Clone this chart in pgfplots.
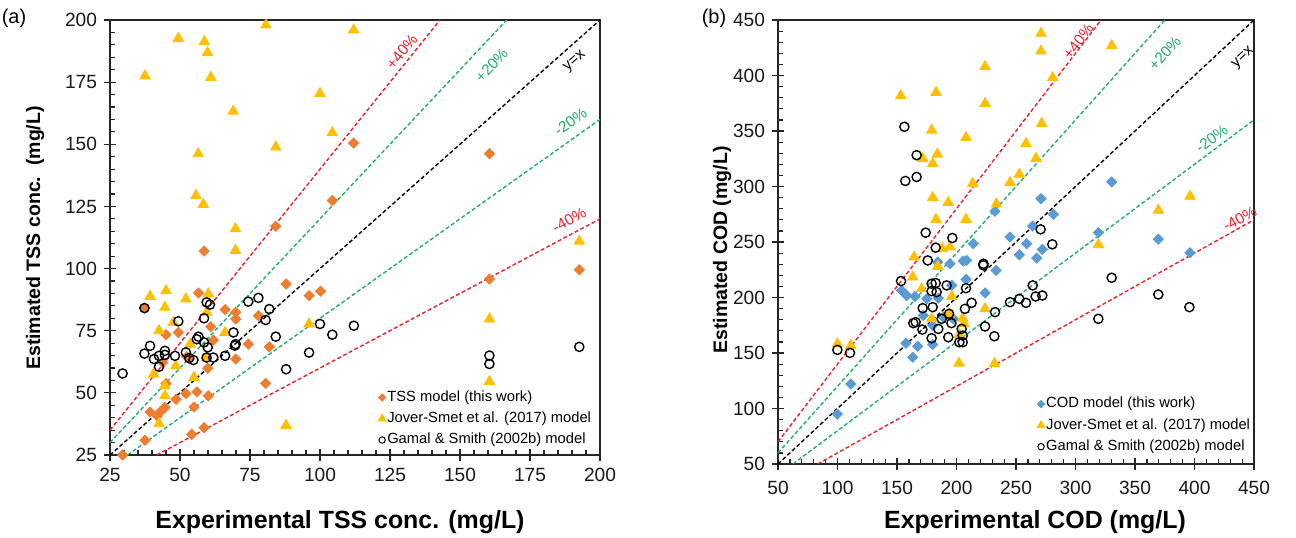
\documentclass[border=0pt]{standalone}
\usepackage{fontspec}
\setmainfont{Liberation Sans}
\usepackage{pgfplots}
\pgfplotsset{compat=1.18}

\definecolor{tssorange}{HTML}{ED7D31}
\definecolor{jsyellow}{HTML}{FFC000}
\definecolor{codblue}{HTML}{5B9BD5}
\definecolor{refred}{HTML}{E8212E}
\definecolor{refgreen}{HTML}{1FAF6A}

\tikzset{lbl/.style={font=\fontsize{7.7}{8}\selectfont, inner sep=0.5bp}}

\pgfplotsset{
  panel/.style={
    scale only axis, clip=false,
    axis line style={black!85, line width=0.6bp},
    tick style={black!85, line width=0.6bp},
    major tick length=6bp, minor tick length=2.5bp, tick align=center,
    minor x tick style={yshift=1.25bp}, minor y tick style={xshift=1.25bp},
    xtick pos=bottom, ytick pos=left,
    tick label style={font=\fontsize{9.6}{11}\selectfont, text=black!90},
    /pgf/number format/assume math mode=true,
    legend style={draw=none, fill=none, font=\fontsize{7.4}{8}\selectfont,
      legend cell align=left, row sep=2.6bp, inner sep=0pt,
      nodes={inner sep=0.6bp}},
    legend image code/.code={\draw[#1] plot coordinates {(1.5bp,0bp)};},
  },
  refline/.style={dash pattern=on 2bp off 1.2bp, line width=0.7bp},
  dmark/.style={only marks, mark=square*, mark size=1.8bp,
    mark options={rotate=45, draw=#1, fill=#1}},
  tmark/.style={only marks, mark=triangle*, mark size=3bp,
    mark options={draw=jsyellow, fill=jsyellow}},
  cmark/.style={only marks, mark=o, mark size=2.3bp,
    mark options={draw=black, line width=0.7bp}},
}

\begin{document}
\begin{tikzpicture}
\useasboundingbox (0,0) rectangle (648bp,269bp);

% ---------- (a) TSS ----------
\begin{axis}[panel,
  at={(55bp,41.5bp)}, anchor=south west,
  width=245bp, height=217.5bp,
  xmin=25, xmax=200, ymin=25, ymax=200,
  xtick={25,50,...,200}, ytick={25,50,...,200},
  minor x tick num=4, minor y tick num=4,
  legend style={at={(0.985,0.015)}, anchor=south east},
]
\addlegendimage{dmark=tssorange, mark size=1.3bp}
\addlegendentry{TSS model (this work)}
\addlegendimage{tmark, mark size=2.3bp}
\addlegendentry{Jover-Smet et al. (2017) model}
\addlegendimage{cmark, mark size=1.6bp, mark options={line width=0.5bp}}
\addlegendentry{Gamal \& Smith (2002b) model}

\addplot[refline, refred, forget plot] coordinates {(25,35) (142.857,200)};
\addplot[refline, refgreen, forget plot] coordinates {(25,30) (166.667,200)};
\addplot[refline, black, forget plot] coordinates {(25,25) (200,200)};
\addplot[refline, refgreen, forget plot] coordinates {(31.25,25) (200,160)};
\addplot[refline, refred, forget plot] coordinates {(41.667,25) (200,120)};

\addplot[dmark=tssorange, forget plot] coordinates {
(112,150.5) (104.4,127.4) (84.2,117) (160.5,146.2) (192.6,99.5) (160.5,95.8)
(58.6,107) (56.6,90.2) (87.9,93.8) (96.1,89.1) (100.2,90.9) (66.1,83.5)
(69.9,82.4) (69.9,79.7) (78,81) (45,73.4) (49.4,74.3) (61,76.6) (61.9,71.2)
(74.4,69.6) (81.9,68.5) (52.4,64.5) (53.3,63.6) (69.9,63.6) (43.8,62.2)
(59.9,59.9) (45,53.8) (80.6,53.8) (48.6,47.4) (52.1,49.7) (56,50.4) (60.1,48.8)
(55,44.3) (39.3,42.3) (42.9,42.3) (44.6,44.1) (41.9,40.7) (37.5,30.9) (29.5,25)
(54.2,33.3) (58.6,36) (37.3,84.1)};

\addplot[tmark, forget plot] coordinates {
(80.7,198) (112,196) (49.4,192.6) (58.7,191.3) (59.8,186.8) (37.5,177.5)
(61,176.9) (100,170.4) (69,163.3) (104.4,154.7) (84.2,148.9) (56.5,146.2)
(55.7,129.4) (58.3,125.8) (69.8,116) (69.8,107.3) (192.6,111) (160.5,79.7)
(160.5,54.6) (39.3,88.8) (45,91.1) (44.6,84.4) (52.1,87.8) (60.1,89.8)
(59.5,82.4) (47.6,78.3) (42.5,75) (53.6,69.6) (66.1,74.3) (59.5,64.2)
(48.5,60.9) (40.5,57.5) (55,56.2) (44.6,52.8) (44.6,48.8) (42.5,37.6)
(87.9,36.9) (96.1,77.7)};

\addplot[cmark, forget plot] coordinates {
(29.5,57.8) (37.3,65.8) (39.3,68.9) (40.7,63.6) (42.5,64.9) (42.5,60.5)
(44.6,66.9) (44.6,65.3) (48.2,64.9) (49.4,78.8) (37.3,84.1) (52.1,66.3)
(53.3,64) (54.8,63.2) (56,71.6) (56.6,72.6) (58.6,70.3) (59.9,68.3) (58.6,80)
(59.5,86.4) (60.7,85.5) (59.5,64.2) (61.9,64.2) (66.1,64.9) (69.1,74.3)
(69.6,69) (69.9,69.6) (74.4,86.7) (78,88.2) (81.9,83.7) (80.6,79.3) (84.2,72.6)
(87.9,59.5) (96.1,66.2) (100,77.7) (104.4,73.4) (112.1,77) (160.5,65)
(160.5,61.6) (192.6,68.5)};

\node[lbl, refred, rotate=51] at (axis cs:129.2,187.2) {+40\%};
\node[lbl, refgreen, rotate=47] at (axis cs:161.3,181.9) {+20\%};
\node[lbl, black, rotate=41.5] at (axis cs:191.1,183.2) {y=x};
\node[lbl, refgreen, rotate=35] at (axis cs:189.5,159) {-20\%};
\node[lbl, refred, rotate=28] at (axis cs:189,119.5) {-40\%};
\end{axis}

% ---------- (b) COD ----------
\begin{axis}[panel,
  at={(389bp,37bp)}, anchor=south west,
  width=238bp, height=222bp,
  xmin=50, xmax=450, ymin=50, ymax=450,
  xtick={50,100,...,450}, ytick={50,100,...,450},
  minor x tick num=4, minor y tick num=4,
  xticklabel style={yshift=-2bp},
  legend style={at={(0.995,0.02)}, anchor=south east},
]
\addlegendimage{dmark=codblue, mark size=1.3bp}
\addlegendentry{COD model (this work)}
\addlegendimage{tmark, mark size=2.3bp}
\addlegendentry{Jover-Smet et al. (2017) model}
\addlegendimage{cmark, mark size=1.6bp, mark options={line width=0.5bp}}
\addlegendentry{Gamal \& Smith (2002b) model}

\addplot[refline, refred, forget plot] coordinates {(50,70) (321.43,450)};
\addplot[refline, refgreen, forget plot] coordinates {(50,60) (375,450)};
\addplot[refline, black, forget plot] coordinates {(50,50) (450,450)};
\addplot[refline, refgreen, forget plot] coordinates {(62.5,50) (450,360)};
\addplot[refline, refred, forget plot] coordinates {(83.33,50) (450,270)};

\addplot[dmark=codblue, forget plot] coordinates {
(232.4,277.7) (214.1,248.5) (184.2,231.9) (194.5,230.4) (205.7,232.8)
(208.5,233.4) (233.2,224.4) (153.9,206.3) (158.1,201.8) (165.1,200.9)
(175,198.8) (184.7,199.4) (196,210.9) (208,216.3) (224,204.2) (172.1,183.8)
(188.9,182.3) (197.3,180.8) (180,174.8) (157.6,158.8) (167.4,156.1)
(180,157.6) (163.2,146.2) (111.1,122.1) (99.9,95) (330.4,304.1) (271,289.1)
(281.4,275) (264,264.4) (245,254.5) (319.2,258.4) (369.6,252.5) (396.2,240.3)
(259,248.5) (252.8,238.5) (267.4,235.5) (272.1,243.3)};

\addplot[tmark, forget plot] coordinates {
(153.1,381.7) (182.8,384.7) (224,408) (224,374.8) (179.1,350.8) (208,344.1)
(171.6,325.2) (183.9,329.1) (180,320.7) (213.6,302.6) (180,290) (193.1,285.5)
(233.5,284.3) (182.8,270.4) (208,270.4) (188.1,244) (194.5,245.5) (164.3,236.4)
(184.2,228) (163.2,218.4) (170.7,207.8) (196,200.9) (224,189.8) (179.1,180.8)
(194,185.3) (205.2,181.4) (206.3,176.3) (202.4,166.6) (99.9,158.2) (111.1,156.7)
(202.1,140.8) (232,140.5) (271,438) (271,422) (330.4,426.9) (280.8,398)
(271.6,356.8) (258.4,338.7) (266.8,325.2) (252.8,311) (245,303.5)
(369.6,278.6) (396.2,291.2) (319.2,247.6)};

\addplot[cmark, forget plot] coordinates {
(156.2,353.8) (166.5,328.2) (157,305) (166.5,308.6) (174.1,258.4) (196.5,253.6)
(182.5,244.9) (175.8,233.4) (153.4,214.8) (179.1,212.4) (182.5,213) (179.1,205.7)
(183.3,204.8) (191.7,210.9) (208,208.4) (212.7,195.2) (207.1,189.8) (171.6,190.4)
(180,191.3) (193.7,185.3) (187.5,180.8) (163.7,176.9) (165.7,177.8) (171.3,171.1)
(184.7,171.7) (195.7,176.9) (179.1,163.3) (193.1,164.2) (204.3,171.7) (205.2,165.7)
(202.4,159.7) (205.2,159.7) (224,173.9) (232.4,186.8) (231.8,165.1) (222.6,230.4)
(222.6,229) (99.9,152.8) (110.5,150.1) (270.7,261.4) (280.5,247.9) (330.4,217.8)
(264,210.9) (245,195.8) (252.8,198.8) (258.4,195.2) (266.5,200.9) (272.1,201.8)
(369.6,202.7) (395.7,191.3) (319.2,180.8)};

\node[lbl, refred, rotate=52.5] at (axis cs:302.3,430.5) {+40\%};
\node[lbl, refgreen, rotate=48] at (axis cs:375,420) {+20\%};
\node[lbl, black, rotate=43] at (axis cs:441,415.7) {y=x};
\node[lbl, refgreen, rotate=36.7] at (axis cs:414.4,343) {-20\%};
\node[lbl, refred, rotate=29] at (axis cs:438,271) {-40\%};
\end{axis}

% labels
\node[font=\fontsize{10}{12}\selectfont] at (7bp,260bp) {(a)};
\node[font=\fontsize{10}{12}\selectfont] at (357bp,260bp) {(b)};
\node[font=\bfseries\fontsize{12.5}{14}\selectfont] at (170bp,8bp) {Experimental TSS conc. (mg/L)};
\node[font=\bfseries\fontsize{12.5}{14}\selectfont] at (517.5bp,8bp) {Experimental COD (mg/L)};
\node[rotate=90, font=\bfseries\fontsize{9.8}{12}\selectfont] at (17.5bp,150bp) {Estimated TSS conc.\ \ (mg/L)};
\node[rotate=90, font=\bfseries\fontsize{9.8}{12}\selectfont] at (361bp,144bp) {Estimated COD (mg/L)};
\end{tikzpicture}
\end{document}
